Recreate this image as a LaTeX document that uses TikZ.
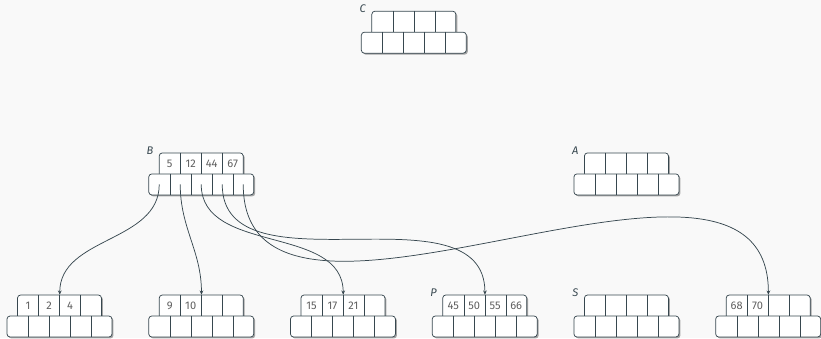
\documentclass[tikz,border=0pt]{standalone}
\usepackage{fontspec}
\setmainfont{Fira Sans}
\usetikzlibrary{shadows,arrows.meta}

\definecolor{edge}{RGB}{55,71,79}
\definecolor{keytext}{RGB}{95,95,95}
\definecolor{paper}{RGB}{249,249,249}

\tikzset{
  frame/.style={draw=edge, fill=white, line width=0.6pt, rounded corners=2.5pt,
    drop shadow={shadow xshift=1.2pt, shadow yshift=-1.2pt, fill=black!35, opacity=1}},
  cell/.style={minimum width=0.6cm, minimum height=0.6cm, inner sep=0pt,
    font=\fontsize{9}{10}\selectfont, text=keytext},
  divider/.style={draw=edge, line width=0.6pt},
  tag/.style={anchor=east, inner xsep=4.5pt, inner ysep=0pt, yshift=1.5pt,
    font=\fontsize{9}{10}\selectfont\itshape, text=edge},
  ptr/.style={draw=edge, line width=0.6pt, -{Stealth[length=3.5pt,width=3pt]}}
}

% tree node: #1 name, #2 x, #3 y of the seam between the rows, #4 keys
\newcommand\treenode[4]{
  % key row (4 slots), its lower corners are hidden by the pointer row
  \path[frame] ({#2-1.2},{#3-0.2}) rectangle ({#2+1.2},{#3+0.6});
  % pointer row (5 slots)
  \path[frame] ({#2-1.5},{#3-0.6}) rectangle ({#2+1.5},#3);
  \foreach \key [count=\i] in {#4}
    \node[cell] (#1-k\i) at ({#2-1.5+0.6*\i},{#3+0.3}) {\key};
  \foreach \i in {1,...,5}
    \node[cell] (#1-p\i) at ({#2-1.8+0.6*\i},{#3-0.3}) {};
  \foreach \i in {1,2,3}
    \draw[divider] (#1-k\i.north east) -- (#1-k\i.south east);
  \foreach \i in {1,...,4}
    \draw[divider] (#1-p\i.north east) -- (#1-p\i.south east);
}

\begin{document}
\begin{tikzpicture}
\path[use as bounding box, fill=paper] (0,0) rectangle (23.46,9.66);

% root level
\treenode{C}{11.825}{8.74}{{},{},{},{}}
\node[tag] (C-tag) at (C-k1.north west) {C};

% middle level
\treenode{B}{5.75}{4.69}{5,12,44,67}
\node[tag] (B-tag) at (B-k1.north west) {B};
\treenode{A}{17.90}{4.69}{{},{},{},{}}
\node[tag] (A-tag) at (A-k1.north west) {A};

% leaves
\treenode{n1}{1.70}{0.63}{1,2,4,{}}
\treenode{n2}{5.75}{0.63}{9,10,{},{}}
\treenode{n3}{9.80}{0.63}{15,17,21,{}}
\treenode{P}{13.85}{0.63}{45,50,55,66}
\node[tag] (P-tag) at (P-k1.north west) {P};
\treenode{S}{17.90}{0.63}{{},{},{},{}}
\node[tag] (S-tag) at (S-k1.north west) {S};
\treenode{n6}{21.95}{0.63}{68,70,{},{}}

% pointers from B to its children
\foreach \i/\child in {1/n1,2/n2,3/n3,4/P,5/n6}
  \draw[ptr] (B-p\i.center) to[out=-90,in=90] (\child-k2.north east);

\end{tikzpicture}
\end{document}
